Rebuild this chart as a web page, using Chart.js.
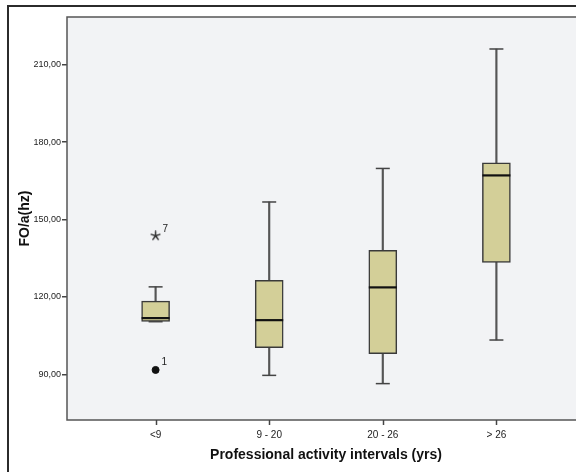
<!DOCTYPE html>
<html>
<head>
<meta charset="utf-8">
<script src="https://cdn.jsdelivr.net/npm/chart.js@4/dist/chart.umd.min.js"></script>
<style>
    html, body { margin: 0; padding: 0; background: #fff; overflow: hidden; }
    #wrap { position: relative; width: 576px; height: 472px; overflow: hidden; }
    #frame { position: absolute; left: 7px; top: 5px; width: 700px; height: 600px; border-left: 2px solid #2b2b2b; border-top: 2px solid #2b2b2b; pointer-events: none; }
    canvas { position: absolute; left: 0; top: 0; }
</style>
</head>
<body>
<div id="wrap">
    <canvas id="box" width="620" height="472"></canvas>
    <div id="frame"></div>
</div>
<script>
// --- Data ---
const categories = ['<9', '9 - 20', '20 - 26', '> 26'];
const whiskerLow = [110.4, 89.6, 86.4, 103.3];
const q1 = [110.5, 100.3, 98.0, 133.4];
const median = [111.8, 111.0, 123.7, 167.1];
const q3 = [118.4, 126.4, 138.1, 172.0];
const whiskerHigh = [123.9, 156.8, 169.8, 216.1];
const outlierGroup = [0];
const outlierValue = [91.7];
const outlierCase = ['1'];
const extremeGroup = [0];
const extremeValue = [143.7];
const extremeCase = ['7'];
const yTicks = [90, 120, 150, 180, 210];

const FONT = "'Liberation Sans', Arial, sans-serif";
const idx = categories.map((c, i) => i);

// SPSS-style asterisk marker for extreme values
const asterisk = document.createElement('canvas');
asterisk.width = 11;
asterisk.height = 11;
(() => {
    const c = asterisk.getContext('2d');
    c.strokeStyle = '#333';
    c.lineWidth = 1.5;
    c.lineCap = 'round';
    for (let k = 0; k < 5; k++) {
        const ang = -Math.PI / 2 + k * 2 * Math.PI / 5;
        c.beginPath();
        c.moveTo(5.5, 5.5);
        c.lineTo(5.5 + 4.5 * Math.cos(ang), 5.5 + 4.5 * Math.sin(ang));
        c.stroke();
    }
})();

// --- Plugins ---
const plotFrame = {
    id: 'plotFrame',
    beforeDraw(chart) {
        const { ctx, chartArea: a } = chart;
        ctx.save();
        ctx.fillStyle = '#f2f3f5';
        ctx.fillRect(a.left, a.top, a.right - a.left, a.bottom - a.top);
        ctx.restore();
    },
    afterDraw(chart) {
        const { ctx, chartArea: a, scales: { x } } = chart;
        ctx.save();
        ctx.strokeStyle = '#555';
        ctx.lineWidth = 1.5;
        ctx.strokeRect(a.left, a.top, a.right - a.left, a.bottom - a.top);
        // category tick marks under the axis
        ctx.strokeStyle = '#444';
        x.ticks.forEach(t => {
            const px = Math.round(x.getPixelForValue(t.value)) + 0.5;
            ctx.beginPath();
            ctx.moveTo(px, a.bottom);
            ctx.lineTo(px, a.bottom + 5);
            ctx.stroke();
        });
        ctx.restore();
    }
};

// case numbers next to outliers
const caseLabels = {
    id: 'caseLabels',
    afterDatasetsDraw(chart) {
        const { ctx, scales: { x, y } } = chart;
        ctx.save();
        ctx.fillStyle = '#222';
        ctx.font = '10px ' + FONT;
        ctx.textAlign = 'left';
        ctx.textBaseline = 'alphabetic';
        outlierGroup.forEach((g, i) => {
            ctx.fillText(outlierCase[i], x.getPixelForValue(g) + 6, y.getPixelForValue(outlierValue[i]) - 5);
        });
        extremeGroup.forEach((g, i) => {
            ctx.fillText(extremeCase[i], x.getPixelForValue(g) + 7, y.getPixelForValue(extremeValue[i]) - 4);
        });
        ctx.restore();
    }
};

// --- Chart ---
new Chart(document.getElementById('box').getContext('2d'), {
    type: 'bar',
    data: {
        datasets: [
            {
                label: 'whisker',
                data: idx.map(i => ({ x: i, y: [whiskerLow[i], whiskerHigh[i]] })),
                backgroundColor: '#555',
                barThickness: 1.5,
                grouped: false,
                order: 3
            },
            {
                label: 'box',
                data: idx.map(i => ({ x: i, y: [q1[i], q3[i]] })),
                backgroundColor: '#d3cf98',
                borderColor: '#3a3a3a',
                borderWidth: 1.5,
                borderSkipped: false,
                barThickness: 28,
                grouped: false,
                order: 2
            },
            {
                type: 'scatter',
                label: 'caps',
                data: idx.flatMap(i => [{ x: i, y: whiskerLow[i] }, { x: i, y: whiskerHigh[i] }]),
                pointStyle: 'line',
                pointRadius: 7,
                borderColor: '#444',
                borderWidth: 1.5,
                order: 1
            },
            {
                type: 'scatter',
                label: 'median',
                data: idx.map(i => ({ x: i, y: median[i] })),
                pointStyle: 'line',
                pointRadius: 14,
                borderColor: '#111',
                borderWidth: 2.2,
                order: 0
            },
            {
                type: 'scatter',
                label: 'outlier',
                data: outlierGroup.map((g, i) => ({ x: g, y: outlierValue[i] })),
                pointStyle: 'circle',
                pointRadius: 3.5,
                backgroundColor: '#111',
                borderColor: '#111',
                borderWidth: 1,
                order: 0
            },
            {
                type: 'scatter',
                label: 'extreme',
                data: extremeGroup.map((g, i) => ({ x: g, y: extremeValue[i] })),
                pointStyle: asterisk,
                pointRadius: 5,
                order: 0
            }
        ]
    },
    options: {
        responsive: false,
        animation: false,
        devicePixelRatio: 1,
        layout: { padding: { left: 0, top: 17, right: 35, bottom: 0 } },
        plugins: { legend: { display: false }, tooltip: { enabled: false } },
        scales: {
            x: {
                type: 'linear',
                min: -0.78,
                max: 3.78,
                offset: false,
                afterFit: s => { s.height = 52; },
                afterBuildTicks: s => { s.ticks = idx.map(v => ({ value: v })); },
                border: { display: false },
                grid: { display: false },
                ticks: {
                    padding: 1,
                    color: '#222',
                    font: { family: FONT, size: 10 },
                    maxRotation: 0,
                    callback: v => categories[v]
                },
                title: {
                    display: true,
                    text: 'Professional activity intervals (yrs)',
                    color: '#111',
                    font: { family: FONT, size: 14, weight: 'bold' },
                    padding: { top: 0, bottom: 8 }
                }
            },
            y: {
                min: 72.3,
                max: 228.5,
                afterFit: s => { s.width = 67; },
                afterBuildTicks: s => { s.ticks = yTicks.map(v => ({ value: v })); },
                border: { display: false },
                grid: { drawOnChartArea: false, drawTicks: true, tickLength: 5, color: '#444', lineWidth: 1.5 },
                ticks: {
                    padding: 1,
                    color: '#222',
                    font: { family: FONT, size: 9 },
                    callback: v => v.toFixed(2).replace('.', ',')
                },
                title: {
                    display: true,
                    text: 'FO/a(hz)',
                    color: '#111',
                    font: { family: FONT, size: 14, weight: 'bold' },
                    padding: { top: 17, bottom: 0 }
                }
            }
        }
    },
    plugins: [plotFrame, caseLabels]
});
</script>
</body>
</html>
